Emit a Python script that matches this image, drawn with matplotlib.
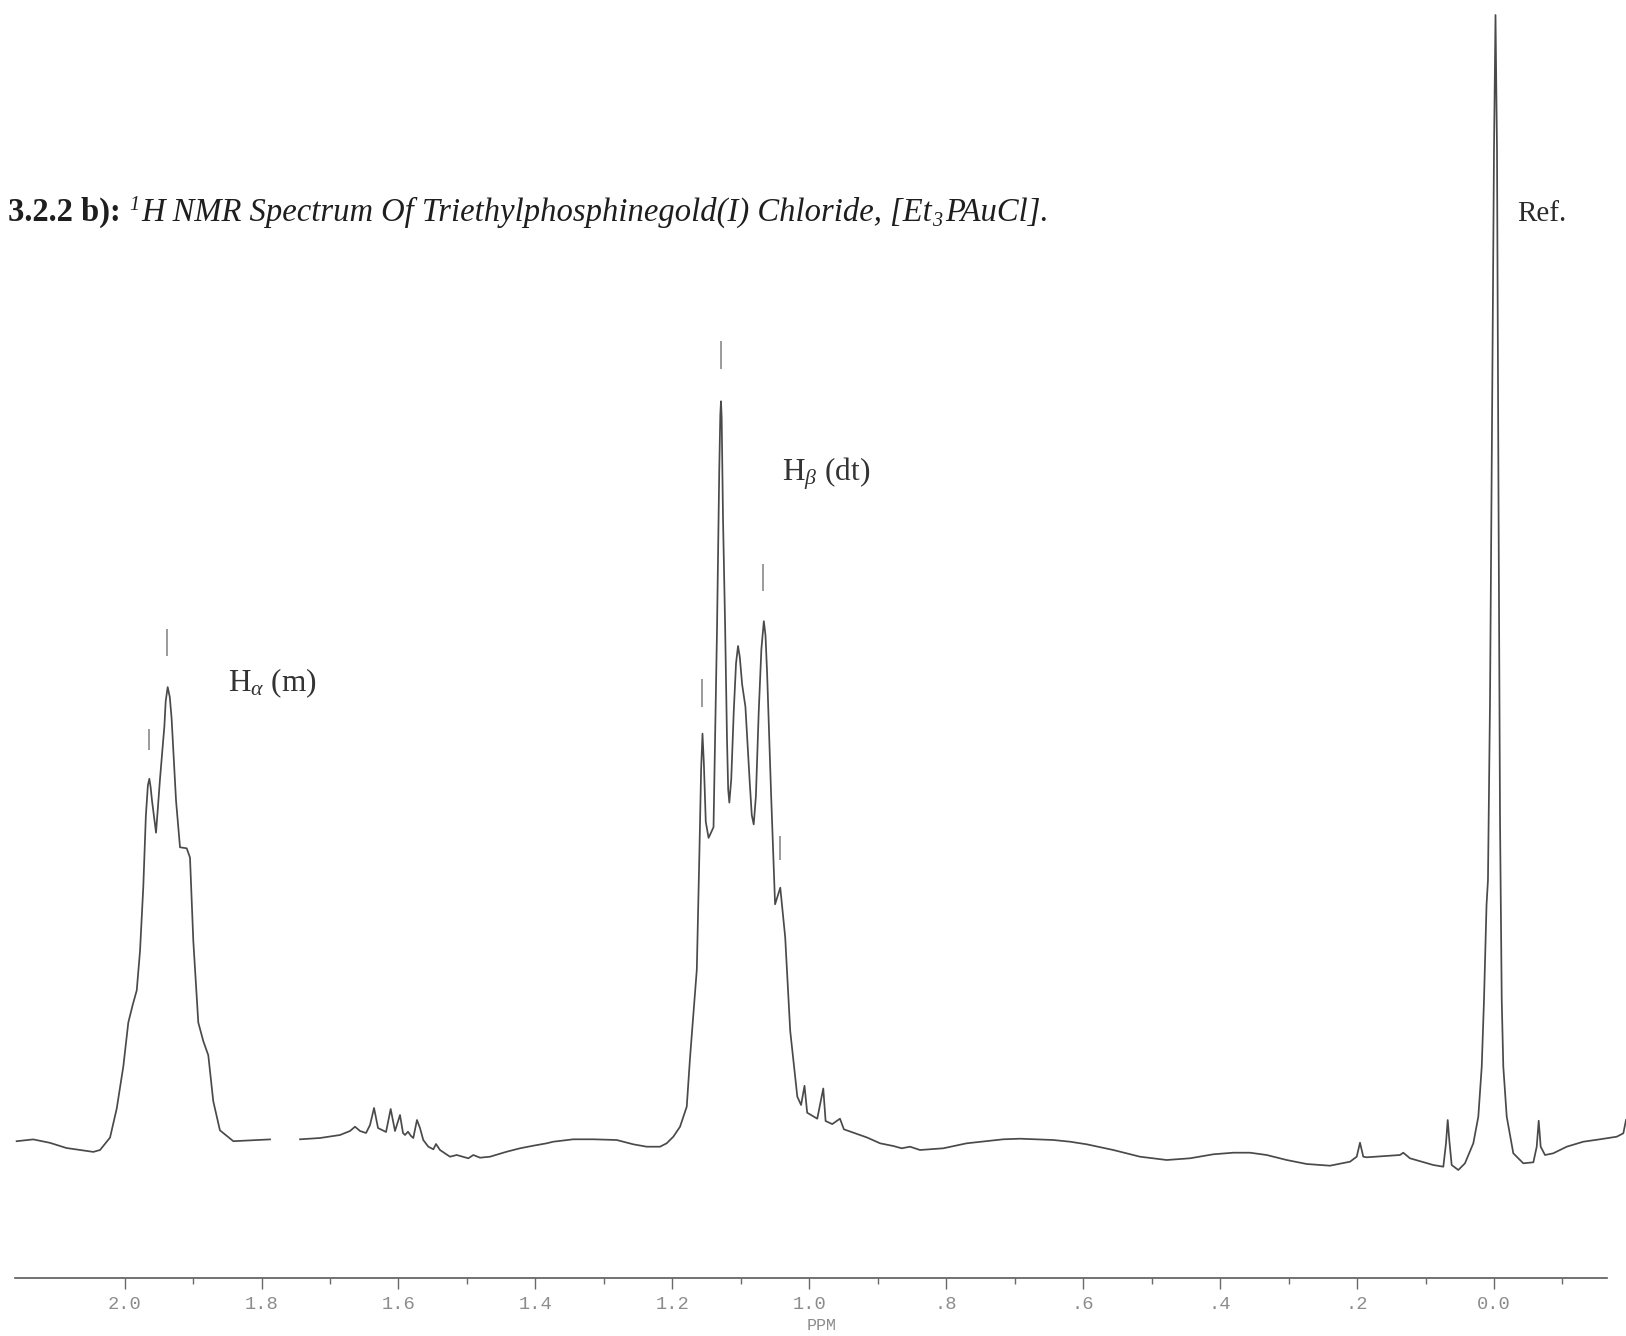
import numpy as np
import matplotlib
matplotlib.use('Agg')
import matplotlib.pyplot as plt

plt.rcParams['font.family'] = ['Liberation Serif', 'DejaVu Sans']
plt.rcParams['mathtext.fontset'] = 'custom'
plt.rcParams['mathtext.rm'] = 'Liberation Serif'
plt.rcParams['mathtext.it'] = 'Liberation Serif:italic'
plt.rcParams['mathtext.bf'] = 'Liberation Serif:bold'

# spectrum trace: chemical shift (ppm) and signal height (arbitrary units)
ppm_a = [2.1577, 2.1335, 2.1092, 2.0850, 2.0457, 2.0359, 2.0213, 2.0115, 2.0018, 1.9946,
         1.9882, 1.9823, 1.9775, 1.9727, 1.9690, 1.9660, 1.9639, 1.9620, 1.9600, 1.9541,
         1.9483, 1.9419, 1.9400, 1.9371, 1.9340, 1.9314, 1.9249, 1.9191, 1.9093, 1.9045,
         1.8997, 1.8924, 1.8851, 1.8778, 1.8705, 1.8608, 1.8412, 1.7876]
int_a = [0, 1.8, -1.6, -6.8, -10.7, -8.8, 3.6, 32.7, 75.2, 118.7,
         136.3, 150.8, 190.2, 254.6, 325.0, 356.0, 362.4, 354.0, 340.6, 308.5,
         362.4, 415.2, 440.0, 454.1, 444.0, 423.0, 340.6, 293.9, 292.9, 283.6,
         200.6, 118.7, 100.1, 86.0, 39.9, 10.9, 0, 1.8]

ppm_b = [1.7438, 1.7146, 1.6854, 1.6708, 1.6635, 1.6562, 1.6474, 1.6416, 1.6357, 1.6299,
         1.6241, 1.6182, 1.6114, 1.6051, 1.5978, 1.5934, 1.5905, 1.5861, 1.5817, 1.5784,
         1.5730, 1.5686, 1.5638, 1.5564, 1.5491, 1.5452, 1.5394, 1.5248, 1.5150, 1.4980,
         1.4907, 1.4809, 1.4663, 1.4419, 1.4225, 1.4031, 1.3835, 1.3739, 1.3447, 1.3155,
         1.2813, 1.2717, 1.2571, 1.2375, 1.2180, 1.2083, 1.1986, 1.1888, 1.1790, 1.1742,
         1.1693, 1.1643, 1.1604, 1.1580, 1.1560, 1.1540, 1.1512, 1.1471, 1.1399, 1.1348,
         1.1315, 1.1300, 1.1290, 1.1280, 1.1260, 1.1230, 1.1202, 1.1185, 1.1168, 1.1140,
         1.1104, 1.1070, 1.1041, 1.1015, 1.0981, 1.0933, 1.0869, 1.0840, 1.0812, 1.0780,
         1.0739, 1.0700, 1.0664, 1.0640, 1.0616, 1.0558, 1.0500, 1.0424, 1.0352, 1.0279,
         1.0175, 1.0120, 1.0070, 1.0031, 0.9884, 0.9796, 0.9762, 0.9665, 0.9552, 0.9495,
         0.9153, 0.8967, 0.8773, 0.8651, 0.8529, 0.8383, 0.8043, 0.7701, 0.7361, 0.7167,
         0.6923, 0.6436, 0.6192, 0.5949, 0.5560, 0.5170, 0.4780, 0.4440, 0.4100, 0.3807,
         0.3564, 0.3320, 0.3028, 0.2736, 0.2395, 0.2103, 0.2005, 0.1957, 0.1909, 0.1859,
         0.1373, 0.1325, 0.1227, 0.0887, 0.0740, 0.0701, 0.0676, 0.0653, 0.0618, 0.0521,
         0.0424, 0.0302, 0.0229, 0.0179, 0.0146, 0.0109, 0.0088, 0.0058, 0.0029, 0.0000,
         -0.0022, -0.0044, -0.0066, -0.0088, -0.0113, -0.0136, -0.0186, -0.0282, -0.0428, -0.0575,
         -0.0624, -0.0653, -0.0682, -0.0745, -0.0866, -0.1062, -0.1305, -0.1548, -0.1793, -0.1889,
         -0.1928]
int_b = [1.9, 3.2, 6.2, 10.2, 14.5, 10.2, 8.2, 16.2, 33.2, 13.2,
         11.2, 9.2, 32.2, 10.2, 26.2, 8.2, 6.2, 9.5, 5.2, 3.2,
         21.2, 13.2, 1.2, -5.5, -8.1, -2.8, -8.8, -15.5, -13.8, -17.1,
         -13.8, -16.5, -15.5, -10.5, -7.1, -4.5, -2.1, -0.5, 1.9, 1.9,
         1.2, -0.5, -3.1, -5.5, -5.5, -2.1, 4.5, 14.5, 34.5, 83.5,
         127.0, 171.6, 291.9, 372.0, 407.5, 378.0, 319.3, 303.3, 314.0, 511.7,
         672.0, 726.0, 739.9, 724.0, 621.7, 516.9, 401.8, 352.0, 338.6, 362.0,
         428.8, 478.0, 495.2, 484.0, 456.8, 434.4, 357.7, 326.0, 316.8, 345.0,
         428.8, 492.0, 520.0, 506.0, 467.6, 346.8, 236.9, 253.5, 203.9, 110.4,
         44.5, 36.2, 55.4, 28.5, 22.5, 52.7, 20.2, 17.1, 22.5, 11.9,
         3.6, -2.1, -4.8, -7.1, -5.5, -8.8, -7.1, -2.1, 0.5, 1.9,
         2.5, 1.2, -0.5, -3.1, -8.8, -15.5, -18.8, -17.1, -13.1, -11.5,
         -11.5, -13.8, -18.8, -22.8, -24.5, -20.5, -15.5, -1.5, -15.5, -16.1,
         -13.8, -11.5, -17.1, -23.8, -25.5, -2.1, 21.2, 1.2, -23.8, -28.8,
         -22.1, -2.1, 24.5, 74.5, 141.2, 236.2, 261.2, 441.2, 721.2, 991.2,
         1126.2, 991.2, 641.2, 321.2, 141.2, 74.5, 24.5, -12.1, -22.1, -21.1,
         -5.5, 20.5, -5.5, -13.8, -12.1, -5.5, -0.5, 1.9, 4.5, 7.9,
         21.2]

# small peak-pick marks above the lines
mark_ppm = [1.9639, 1.9385, 1.1563, 1.1294, 1.0672, 1.0428]
mark_low = [391, 485, 434, 772, 550, 281]
mark_high = [412, 512, 462, 800, 577, 305]

major_ticks = [2.0, 1.8, 1.6, 1.4, 1.2, 1.0, 0.8, 0.6, 0.4, 0.2, 0.0]
major_labels = ['2.0', '1.8', '1.6', '1.4', '1.2', '1.0', '.8', '.6', '.4', '.2', '0.0']
minor_ticks = [1.9, 1.7, 1.5, 1.3, 1.1, 0.9, 0.7, 0.5, 0.3, 0.1, -0.1]

W, H = 1626, 1336
fig = plt.figure(figsize=(W / 100, H / 100), dpi=100)
ax = fig.add_axes([0, 0, 1, 1])
ax.set_xlim(2.182, -0.1928)
ax.set_ylim(-194.8, 1141.2)

line_col = '#4a4a4a'
ax.plot(ppm_a, int_a, color=line_col, lw=1.25, solid_joinstyle='round')
ax.plot(ppm_b, int_b, color=line_col, lw=1.25, solid_joinstyle='round')
ax.vlines(mark_ppm, mark_low, mark_high, color='#8a8a8a', lw=1.2)

for s in ['top', 'left', 'right']:
    ax.spines[s].set_visible(False)
ax.spines['bottom'].set_position(('data', -136.5))
ax.spines['bottom'].set_bounds(2.16, -0.165)
ax.spines['bottom'].set_color('#5a5a5a')
ax.spines['bottom'].set_linewidth(1.2)
ax.set_yticks([])
ax.set_xticks(major_ticks)
ax.set_xticklabels(major_labels, family='Liberation Mono')
ax.set_xticks(minor_ticks, minor=True)
ax.tick_params(axis='x', which='major', direction='out', length=8, width=1,
               colors='#6a6a6a', labelcolor='#8c8c8c', labelsize=13.5, pad=5)
ax.tick_params(axis='x', which='minor', direction='out', length=4, width=1, colors='#6a6a6a')


def px(x, y):
    return x / W, 1 - y / H


fig.text(*px(822, 1326), 'PPM', family='Liberation Mono', fontsize=12,
         color='#8c8c8c', ha='center', va='center')

# title built from pieces: (text, size, rise in px, style, weight, gap after)
title_parts = [('3.2.2 b):', 23.5, 0, 'normal', 'bold', 9),
               ('1', 14.5, 11, 'italic', 'normal', 1),
               ('H NMR Spectrum Of Triethylphosphinegold(I) Chloride, [Et', 23.5, 0, 'italic', 'normal', 0),
               ('3', 14.5, -5, 'italic', 'normal', 3),
               ('PAuCl].', 23.5, 0, 'italic', 'normal', 0)]
renderer = fig.canvas.get_renderer()
x0, base = 8, 221
for txt, size, rise, style, weight, gap in title_parts:
    t = fig.text(*px(x0, base - rise), txt, fontsize=size, style=style, weight=weight,
                 color='#1e1e1e', ha='left', va='baseline')
    x0 = t.get_window_extent(renderer).x1 + gap

fig.text(*px(1517, 221), 'Ref.', fontsize=21, color='#2a2a2a', ha='left', va='baseline')
fig.text(*px(228, 683), r'H$_{\alpha}$ (m)', fontsize=22.5, color='#333333', ha='left', va='center')
fig.text(*px(782, 474), r'H$_{\beta}$ (dt)', fontsize=22.5, color='#333333', ha='left', va='center')

fig.savefig('out.png', dpi=100, facecolor='white')
